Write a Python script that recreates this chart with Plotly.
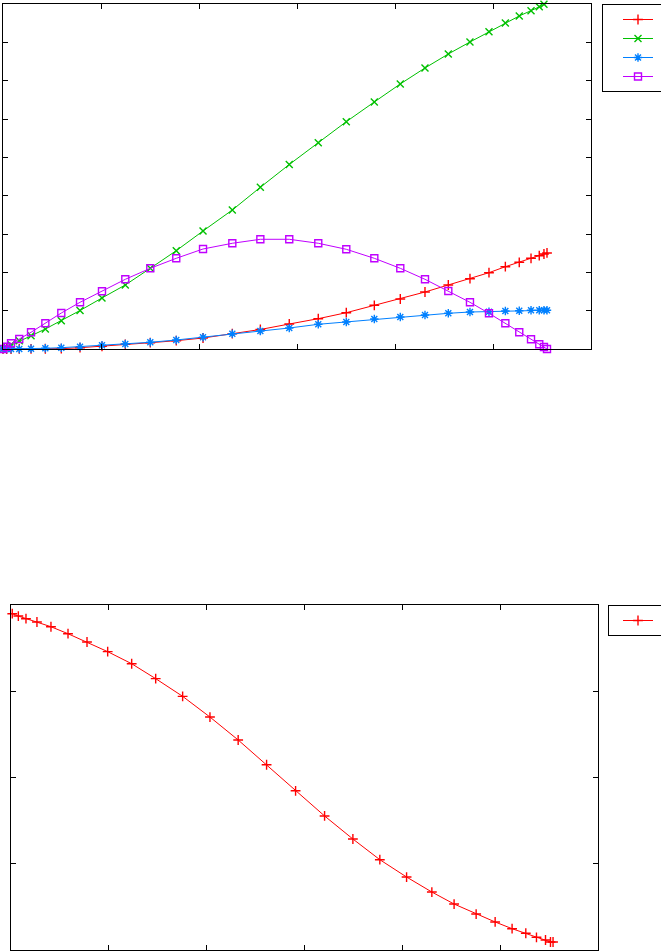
import plotly.graph_objects as go

# shared sample positions (axis units = tick intervals)
x_top = [0.0, 0.038, 0.082, 0.166, 0.286, 0.432, 0.595, 0.786, 1.010, 1.248,
         1.503, 1.768, 2.041, 2.340, 2.626, 2.921, 3.217, 3.503, 3.789, 4.054,
         4.306, 4.544, 4.765, 4.959, 5.126, 5.268, 5.388, 5.472, 5.520, 5.551]

y_red = [0.0, 0.0, 0.0, 0.003, 0.005, 0.006, 0.008, 0.034, 0.070, 0.123,
         0.164, 0.217, 0.287, 0.399, 0.509, 0.652, 0.791, 0.947, 1.140, 1.304,
         1.487, 1.670, 1.834, 1.991, 2.147, 2.262, 2.366, 2.434, 2.478, 2.505]

y_green = [0.0, 0.047, 0.112, 0.217, 0.344, 0.522, 0.738, 1.004, 1.331, 1.670,
           2.105, 2.565, 3.079, 3.626, 4.219, 4.813, 5.382, 5.930, 6.444, 6.914,
           7.331, 7.696, 8.009, 8.278, 8.505, 8.688, 8.826, 8.930, 8.993, 9.019]

y_blue = [0.0, 0.0, 0.0, 0.0, 0.008, 0.018, 0.034, 0.060, 0.097, 0.130,
          0.175, 0.235, 0.305, 0.399, 0.470, 0.548, 0.644, 0.704, 0.783, 0.835,
          0.887, 0.931, 0.965, 0.973, 0.991, 0.999, 1.010, 1.010, 1.010, 1.010]

y_purple = [0.0, 0.060, 0.149, 0.261, 0.436, 0.670, 0.939, 1.218, 1.505, 1.818,
            2.105, 2.366, 2.609, 2.758, 2.862, 2.862, 2.758, 2.601, 2.366, 2.105,
            1.818, 1.513, 1.218, 0.931, 0.670, 0.436, 0.253, 0.123, 0.052, 0.0]

x_bottom = [-0.015, 0.018, 0.080, 0.158, 0.270, 0.413, 0.587, 0.781, 0.992, 1.237,
            1.482, 1.757, 2.036, 2.324, 2.614, 2.910, 3.206, 3.495, 3.770, 4.043,
            4.301, 4.528, 4.753, 4.947, 5.120, 5.260, 5.369, 5.461, 5.512, 5.538]

y_bottom = [3.899, 3.899, 3.872, 3.841, 3.803, 3.748, 3.667, 3.571, 3.459, 3.319,
            3.146, 2.941, 2.701, 2.435, 2.148, 1.846, 1.554, 1.287, 1.047, 0.846,
            0.672, 0.533, 0.417, 0.325, 0.247, 0.194, 0.147, 0.116, 0.093, 0.093]

top_x_ticks = [0, 1, 2, 3, 4, 5, 6]
top_y_ticks = [0, 1, 2, 3, 4, 5, 6, 7, 8, 9]
bot_x_ticks = [0, 1, 2, 3, 4, 5, 6]
bot_y_ticks = [0, 1, 2, 3, 4]

W, H = 661, 951
RED = "#ff0000"
GREEN = "#00c000"
BLUE = "#0080ff"
PURPLE = "#c000ff"


def trace(x, y, color, symbol, size, xa, ya, legend):
    return go.Scatter(
        x=x, y=y, mode="lines+markers", name=" ", xaxis=xa, yaxis=ya,
        legend=legend, cliponaxis=False,
        line=dict(color=color, width=1),
        marker=dict(symbol=symbol, size=size, color=color,
                    line=dict(color=color, width=1.4)),
    )


fig = go.Figure()
fig.add_trace(trace(x_top, y_red, RED, "cross-thin", 7, "x", "y", "legend"))
fig.add_trace(trace(x_top, y_green, GREEN, "x-thin", 7, "x", "y", "legend"))
fig.add_trace(trace(x_top, y_blue, BLUE, "asterisk", 7, "x", "y", "legend"))
fig.add_trace(trace(x_top, y_purple, PURPLE, "square-open", 7, "x", "y", "legend"))
fig.add_trace(trace(x_bottom, y_bottom, RED, "cross-thin", 7, "x2", "y2", "legend2"))

axis_common = dict(showline=True, linecolor="black", linewidth=1, mirror="ticks",
                   ticks="inside", ticklen=5, tickwidth=1, tickcolor="black",
                   showticklabels=False, showgrid=False, zeroline=False)

fig.update_layout(
    width=W, height=H, margin=dict(l=0, r=0, t=0, b=0, autoexpand=False),
    paper_bgcolor="white", plot_bgcolor="white",
    xaxis=dict(domain=[3 / W, 591 / W], range=[0, 6], tickvals=top_x_ticks, anchor="y", **axis_common),
    yaxis=dict(domain=[1 - 349 / H, 1 - 4 / H], range=[0, 9], tickvals=top_y_ticks, anchor="x", **axis_common),
    xaxis2=dict(domain=[10.5 / W, 598.3 / W], range=[0, 6], tickvals=bot_x_ticks, anchor="y2", **axis_common),
    yaxis2=dict(domain=[1 - 950 / H, 1 - 605 / H], range=[0, 4], tickvals=bot_y_ticks, anchor="x2", **axis_common),
    legend=dict(x=602 / W, y=1 - 4 / H, xanchor="left", yanchor="top",
                bordercolor="black", borderwidth=1, bgcolor="white",
                font=dict(size=8), indentation=15, itemwidth=30, tracegroupgap=0,
                entrywidth=39, entrywidthmode="pixels"),
    legend2=dict(x=608 / W, y=1 - 605 / H, xanchor="left", yanchor="top",
                 bordercolor="black", borderwidth=1, bgcolor="white",
                 font=dict(size=8), indentation=9, itemwidth=30,
                 entrywidth=39, entrywidthmode="pixels"),
    showlegend=True,
)

fig.write_html("out.html", config={"displayModeBar": False},
               post_script="document.body.style.margin='0px';document.body.style.overflow='hidden';")
